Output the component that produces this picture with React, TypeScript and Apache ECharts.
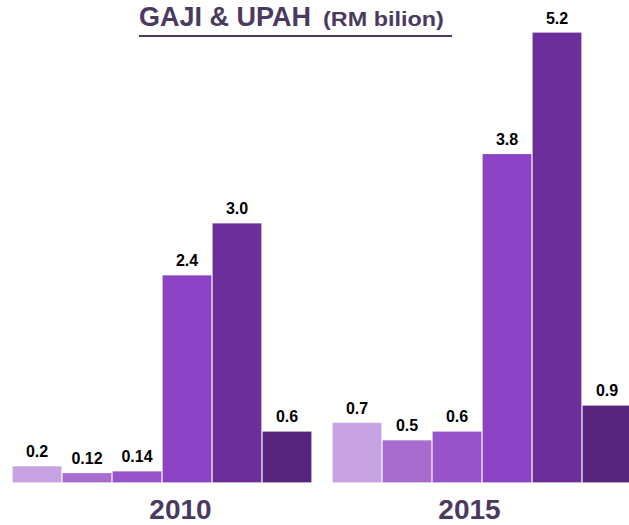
import React, { useEffect, useRef } from "react";
import * as echarts from "echarts";

const years = ["2010", "2015"];
const seriesValues: number[][] = [
  [0.2, 0.7],
  [0.12, 0.5],
  [0.14, 0.6],
  [2.4, 3.8],
  [3.0, 5.2],
  [0.6, 0.9],
];
const seriesLabels: string[][] = [
  ["0.2", "0.7"],
  ["0.12", "0.5"],
  ["0.14", "0.6"],
  ["2.4", "3.8"],
  ["3.0", "5.2"],
  ["0.6", "0.9"],
];
const barColors = ["#C7A2E2", "#A86CCF", "#9753C8", "#8B42C4", "#6B2E9B", "#57247E"];
const titleMain = "GAJI & UPAH";
const titleSub = "(RM bilion)";

const FONT = "Arial, 'Liberation Sans', sans-serif";
const TITLE_COLOR = "#4A3A5F";

export default function App() {
  const ref = useRef<HTMLDivElement>(null);
  useEffect(() => {
    if (!ref.current) return;
    const chart = echarts.init(ref.current, undefined, { renderer: "svg" });
    chart.setOption({
      animation: false,
      backgroundColor: "#ffffff",
      graphic: [
        {
          type: "text",
          x: 139,
          y: 17,
          style: {
            text: titleMain,
            fontFamily: FONT,
            fontSize: 27,
            fontWeight: "bold",
            fill: TITLE_COLOR,
            textAlign: "left",
            textVerticalAlign: "middle",
          },
        },
        {
          type: "text",
          x: 323,
          y: 19.5,
          scaleX: 1.17,
          style: {
            text: titleSub,
            fontFamily: FONT,
            fontSize: 20,
            fontWeight: "bold",
            fill: TITLE_COLOR,
            textAlign: "left",
            textVerticalAlign: "middle",
          },
        },
        {
          type: "line",
          shape: { x1: 139, y1: 36, x2: 452, y2: 36 },
          style: { stroke: TITLE_COLOR, lineWidth: 2 },
        },
      ],
      grid: { left: 2, right: 0, top: 6, bottom: 42 },
      xAxis: {
        type: "category",
        data: years,
        axisLine: { show: false },
        axisTick: { show: false },
        axisLabel: {
          margin: 12,
          formatter: (v: string) => (v === "2010" ? `{l|${v}}` : `{r|${v}}`),
          rich: {
            l: {
              fontFamily: FONT,
              fontSize: 28,
              fontWeight: "bold",
              color: TITLE_COLOR,
              padding: [0, 0, 0, 37],
            },
            r: {
              fontFamily: FONT,
              fontSize: 28,
              fontWeight: "bold",
              color: TITLE_COLOR,
              padding: [0, 25, 0, 0],
            },
          },
        },
      },
      yAxis: {
        type: "value",
        min: 0,
        max: 5.5,
        show: false,
        splitLine: { show: false },
      },
      series: seriesValues.map((vals, i) => ({
        type: "bar",
        data: vals,
        barWidth: 50,
        barGap: "0%",
        itemStyle: { color: barColors[i], borderColor: "rgba(255,255,255,0.2)", borderWidth: 1 },
        label: {
          show: true,
          position: "top",
          distance: 6,
          formatter: (p: any) => seriesLabels[i][p.dataIndex],
          fontFamily: FONT,
          fontSize: 16,
          fontWeight: "bold",
          color: "#000000",
        },
      })),
    });
    return () => chart.dispose();
  }, []);
  return (
    <div style={{ position: "absolute", left: 0, top: 0, width: 629, height: 525, overflow: "hidden", background: "#fff" }}>
      <div ref={ref} style={{ width: 642, height: 525 }} />
    </div>
  );
}
